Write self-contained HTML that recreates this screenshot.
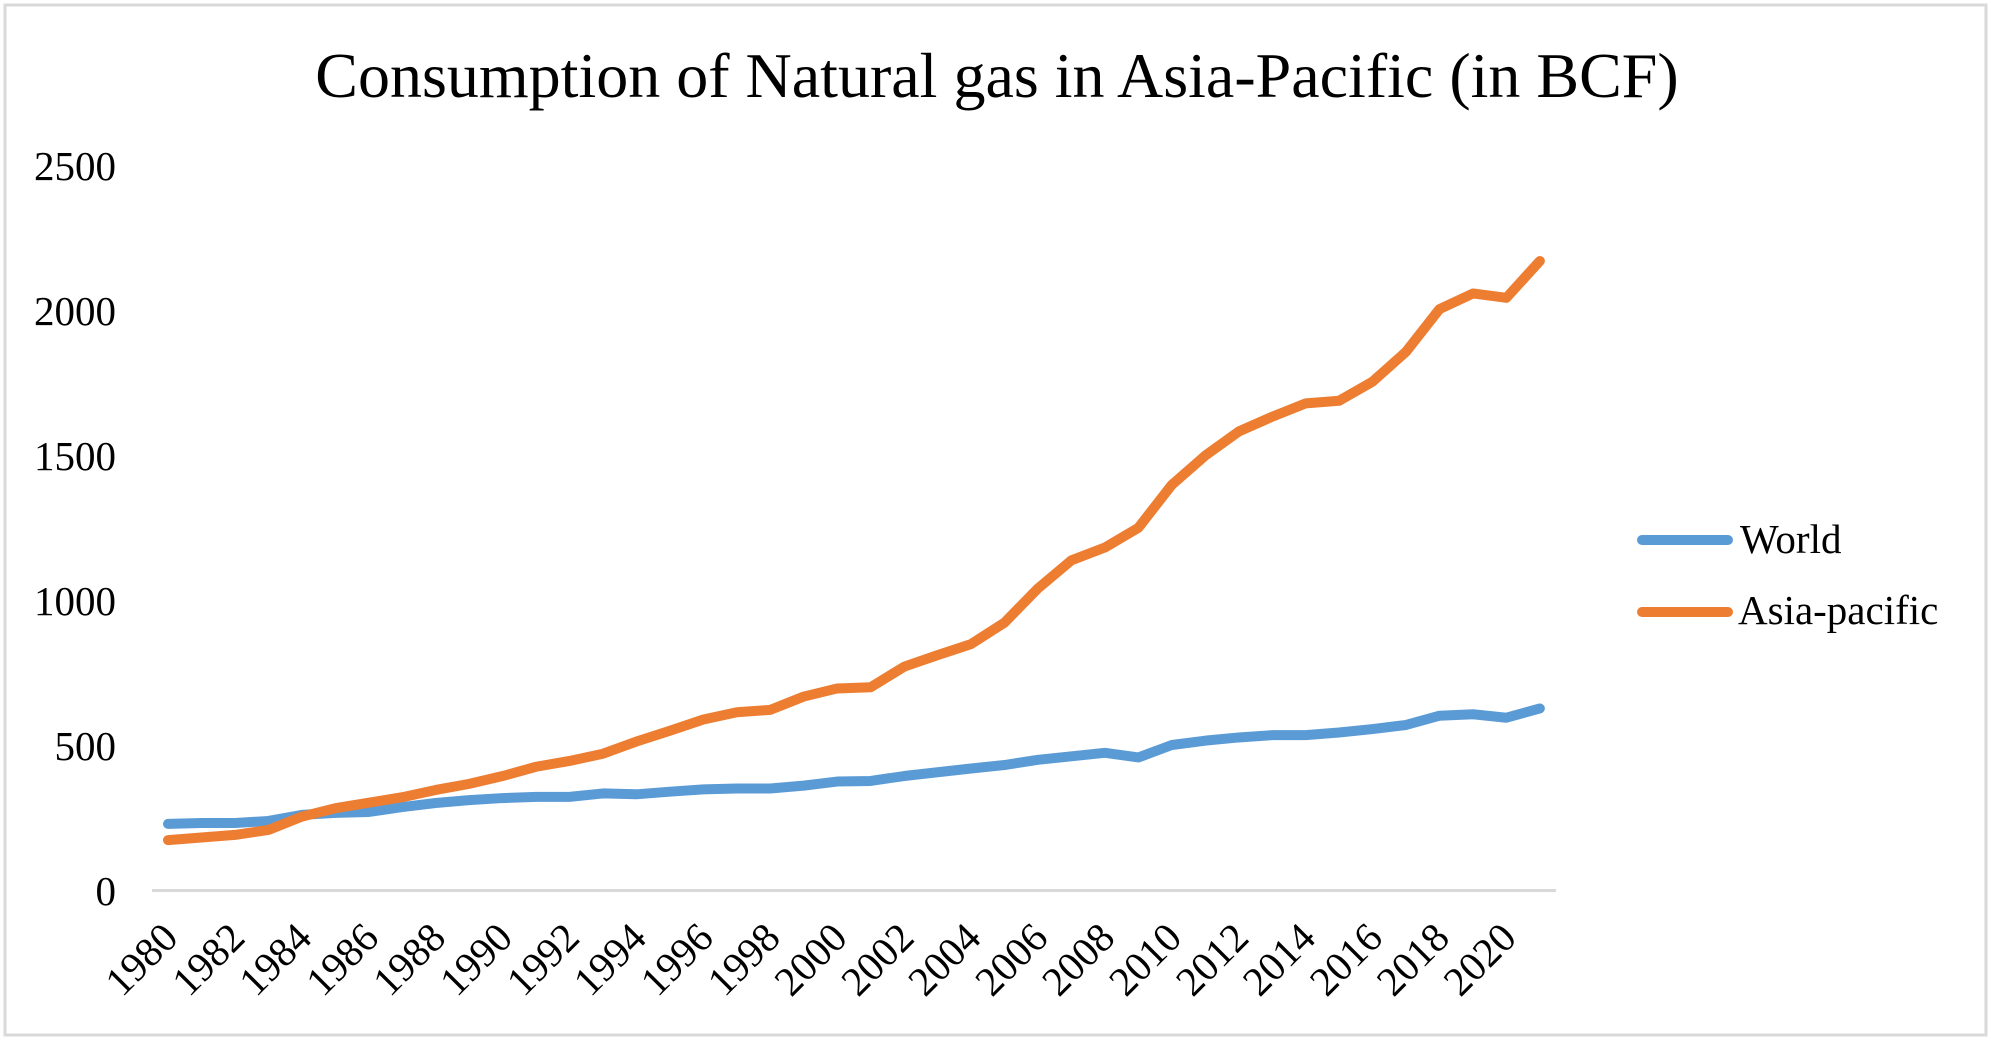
<!DOCTYPE html>
<html>
<head>
<meta charset="utf-8">
<style>
  html, body { margin: 0; padding: 0; background: #ffffff; }
  body { width: 1993px; height: 1045px; overflow: hidden; }
  svg { display: block; }
  text { font-family: "Liberation Serif", "Times New Roman", serif; fill: #000; }
</style>
</head>
<body>
<svg width="1993" height="1045" viewBox="0 0 1993 1045" xmlns="http://www.w3.org/2000/svg">
  <rect x="0" y="0" width="1993" height="1045" fill="#ffffff"/>
  <!-- chart border -->
  <rect x="5" y="5" width="1981" height="1030" fill="none" stroke="#d9d9d9" stroke-width="3"/>

  <!-- title -->
  <text x="997" y="97" font-size="64" text-anchor="middle">Consumption of Natural gas in Asia-Pacific (in BCF)</text>

  <!-- y axis labels -->
  <g font-size="41" text-anchor="end">
    <text x="116" y="180">2500</text>
    <text x="116" y="325">2000</text>
    <text x="116" y="470">1500</text>
    <text x="116" y="615">1000</text>
    <text x="116" y="760">500</text>
    <text x="116" y="905">0</text>
  </g>

  <!-- x axis line -->
  <line x1="152" y1="890.5" x2="1556" y2="890.5" stroke="#d9d9d9" stroke-width="3"/>

  <!-- x axis labels -->
  <g font-size="41" text-anchor="end">
    <text transform="translate(180,940) rotate(-45)">1980</text>
    <text transform="translate(246.9,940) rotate(-45)">1982</text>
    <text transform="translate(313.8,940) rotate(-45)">1984</text>
    <text transform="translate(380.8,940) rotate(-45)">1986</text>
    <text transform="translate(447.7,940) rotate(-45)">1988</text>
    <text transform="translate(514.6,940) rotate(-45)">1990</text>
    <text transform="translate(581.5,940) rotate(-45)">1992</text>
    <text transform="translate(648.4,940) rotate(-45)">1994</text>
    <text transform="translate(715.4,940) rotate(-45)">1996</text>
    <text transform="translate(782.3,940) rotate(-45)">1998</text>
    <text transform="translate(849.2,940) rotate(-45)">2000</text>
    <text transform="translate(916.1,940) rotate(-45)">2002</text>
    <text transform="translate(983,940) rotate(-45)">2004</text>
    <text transform="translate(1050,940) rotate(-45)">2006</text>
    <text transform="translate(1116.9,940) rotate(-45)">2008</text>
    <text transform="translate(1183.8,940) rotate(-45)">2010</text>
    <text transform="translate(1250.7,940) rotate(-45)">2012</text>
    <text transform="translate(1317.6,940) rotate(-45)">2014</text>
    <text transform="translate(1384.6,940) rotate(-45)">2016</text>
    <text transform="translate(1451.5,940) rotate(-45)">2018</text>
    <text transform="translate(1518.4,940) rotate(-45)">2020</text>
  </g>

  <!-- series -->
  <g transform="translate(168,890) scale(33.46,-0.29)" fill="none" stroke-linecap="round" stroke-linejoin="round">
    <polyline vector-effect="non-scaling-stroke" stroke="#5b9bd5" stroke-width="10"
      points="0,228 1,231 2,231 3,238 4,259 5,266 6,269 7,286 8,300 9,310 10,317 11,321 12,321 13,333 14,330 15,339 16,347 17,350 18,350 19,360 20,374 21,376 22,393 23,406 24,419 25,431 26,449 27,461 28,473 29,457 30,500 31,515 32,526 33,534 34,534 35,543 36,555 37,569 38,601 39,606 40,594 41,626"/>
    <polyline vector-effect="non-scaling-stroke" stroke="#ed7d31" stroke-width="10"
      points="0,172 1,181 2,190 3,207 4,253 5,282 6,301 7,320 8,345 9,366 10,393 11,425 12,445 13,470 14,512 15,549 16,588 17,613 18,621 19,667 20,695 21,699 22,770 23,810 24,848 25,922 26,1040 27,1137 28,1181 29,1249 30,1397 31,1498 32,1581 33,1632 34,1678 35,1687 36,1753 37,1856 38,2003 39,2057 40,2042 41,2169"/>
  </g>

  <!-- legend -->
  <line x1="1642" y1="540" x2="1728" y2="540" stroke="#5b9bd5" stroke-width="10" stroke-linecap="round"/>
  <line x1="1642" y1="612" x2="1728" y2="612" stroke="#ed7d31" stroke-width="10" stroke-linecap="round"/>
  <g font-size="41">
    <text x="1740" y="553">World</text>
    <text x="1738" y="624">Asia-pacific</text>
  </g>
</svg>
</body>
</html>
